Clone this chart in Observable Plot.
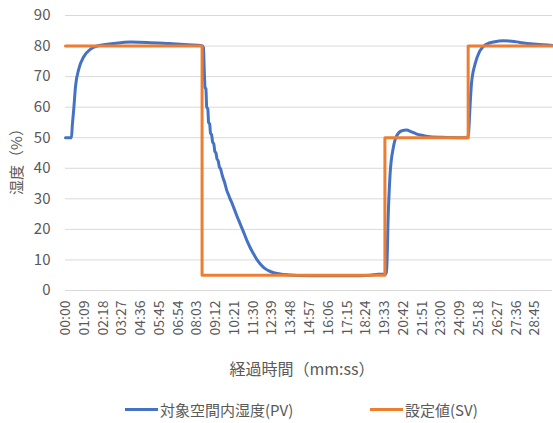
<!DOCTYPE html>
<html>
<head>
<meta charset="utf-8">
<script src="https://cdn.jsdelivr.net/npm/d3@7"></script>
<script src="https://cdn.jsdelivr.net/npm/@observablehq/plot@0.6"></script>
<style>
  html, body { margin: 0; padding: 0; background: #fff; }
  #wrap { position: relative; width: 553px; height: 423px; font-family: "Noto Sans CJK JP", "Noto Sans", sans-serif; color: #595959; }
  .leg { position: absolute; top: 399px; display: flex; align-items: center; font-size: 15px; white-space: nowrap; }
  .leg .sw { width: 33px; height: 3px; margin-right: 2px; }
</style>
</head>
<body>
<div id="wrap">
  <div id="chart"></div>
  <div class="leg" style="left:125px"><span class="sw" style="background:#4472C4"></span>対象空間内湿度(PV)</div>
  <div class="leg" style="left:370px"><span class="sw" style="background:#ED7D31"></span>設定値(SV)</div>
</div>
<script>
// Elapsed time in seconds and measured humidity (PV, %)
const pvTime = [0, 22, 25, 30, 37, 49, 67, 92, 116, 176, 239, 300, 380, 450, 502,
  507, 510, 513, 516, 519, 523, 526, 530, 533, 537, 541, 545, 549, 553, 557, 561, 566,
  570, 575, 580, 584, 589, 593, 598, 605, 612, 618,
  630, 642, 655, 667, 679, 691, 703, 716, 730, 746, 765, 789, 820, 850, 950, 1050,
  1120, 1150, 1174, 1178, 1181, 1186, 1193, 1205, 1217, 1236, 1254, 1270, 1291, 1315,
  1339, 1400, 1478, 1482, 1486, 1492, 1505, 1523, 1547, 1578, 1608, 1640, 1670, 1731, 1790];
const pvValue = [50, 50, 54, 59, 67, 72.5, 76.5, 79, 80, 80.8, 81.3, 81.2, 80.8, 80.4, 80.1,
  79.5, 72, 66.4, 66, 60, 59.5, 55, 54.5, 51.5, 51, 48.5, 48, 45.5, 45, 43, 42.5, 40.3,
  39.8, 38.1, 36.6, 35.6, 34, 32.7, 31.6, 30, 28.6, 27.2,
  24.4, 21.8, 19, 16.3, 14, 12, 10.2, 8.7, 7.4, 6.5, 5.8, 5.4, 5.1, 4.9, 4.8, 4.8,
  5.0, 5.3, 5.3, 5.6, 7.6, 24, 38, 46.8, 50.6, 52.3, 52.5, 52.0, 51.2, 50.7,
  50.3, 50.1, 50.0, 52, 58.8, 67.5, 74, 78.4, 80.6, 81.4, 81.7, 81.6, 81.2, 80.6, 80.2];

// Setpoint changes (SV, %)
const svTime = [0, 502, 1174, 1480, 1790];
const svValue = [80, 5, 50, 80, 80];

// Category labels every 69 seconds
const tickTimes = d3.range(0, 1726, 69);
const yTicks = d3.range(0, 91, 10);

const pv = pvTime.map((t, i) => ({t, v: pvValue[i]}));
const sv = svTime.map((t, i) => ({t, v: svValue[i]}));
const fmt = s => String(Math.floor(s / 60)).padStart(2, "0") + ":" + String(s % 60).padStart(2, "0");

const chart = Plot.plot({
  width: 553,
  height: 392,
  marginTop: 15,
  marginLeft: 65,
  marginRight: 1,
  marginBottom: 102,
  style: {fontFamily: '"Noto Sans CJK JP", "Noto Sans", sans-serif', fontSize: "14px", color: "#595959", background: "#fff"},
  x: {domain: [0, 1790]},
  y: {domain: [0, 90]},
  marks: [
    Plot.gridY(yTicks, {stroke: "#d9d9d9", strokeOpacity: 1, strokeWidth: 1}),
    Plot.axisY({ticks: yTicks, tickSize: 0, tickPadding: 15, fontSize: 15, label: null}),
    Plot.axisX({ticks: tickTimes, tickFormat: fmt, tickSize: 0, tickPadding: 10, tickRotate: -90, fontSize: 14, label: null}),
    Plot.text(["湿度（%）"], {frameAnchor: "left", textAnchor: "middle", dx: -48, dy: 5, rotate: -90, fontSize: 15, fill: "#595959"}),
    Plot.text(["経過時間（mm:ss）"], {frameAnchor: "bottom", dx: -7, dy: 84, fontSize: 16, fill: "#595959"}),
    Plot.line(pv, {x: "t", y: "v", stroke: "#4472C4", strokeWidth: 3, curve: "monotone-x"}),
    Plot.line(sv, {x: "t", y: "v", stroke: "#ED7D31", strokeWidth: 3, curve: "step-after"})
  ]
});
document.getElementById("chart").appendChild(chart);
</script>
</body>
</html>
